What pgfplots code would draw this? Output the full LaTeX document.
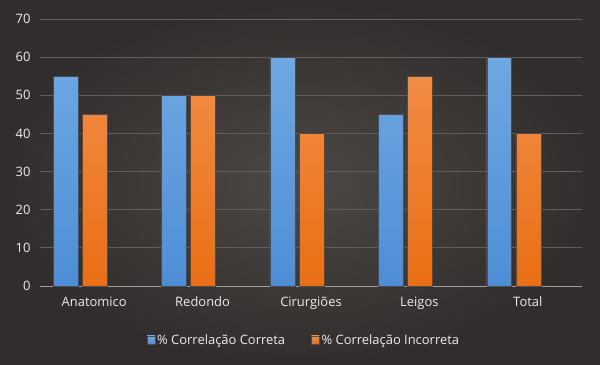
\documentclass[border=0pt]{standalone}
\usepackage{pgfplots}
\pgfplotsset{compat=1.18}
\usepackage{fontspec}
\setmainfont{Open Sans}
\definecolor{bgin}{HTML}{4C4845}
\definecolor{bgout}{HTML}{302D2C}
\definecolor{gridc}{HTML}{615E5B}
\definecolor{txt}{HTML}{EDEDED}
\definecolor{bluetop}{HTML}{6FA8E2}
\definecolor{bluebot}{HTML}{4E8ED6}
\definecolor{orgtop}{HTML}{F28C44}
\definecolor{orgbot}{HTML}{EA6E14}
\begin{document}
\begin{tikzpicture}
\fill[inner color=bgin, outer color=bgout] (0,0) rectangle (600bp,365bp);
\useasboundingbox (0,0) rectangle (600bp,365bp);
\begin{axis}[
  at={(40bp,79bp)}, anchor=south west,
  scale only axis, width=542bp, height=267bp,
  xmin=-0.5, xmax=4.5, ymin=0, ymax=70,
  ytick={0,10,...,70},
  xtick={0,1,2,3,4},
  xticklabels={Anatomico,Redondo,Cirurgiões,Leigos,Total},
  major tick length=0pt,
  ymajorgrids, grid style={gridc, line width=0.9bp},
  axis x line*=bottom, axis y line*=left,
  y axis line style={draw=none},
  x axis line style={draw=gray!75, line width=1bp, -},
  ticklabel style={font=\fontsize{13}{15}\selectfont, text=txt},
  /pgf/number format/assume math mode=true,
  yticklabel style={anchor=east, xshift=-6bp},
  xticklabel style={yshift=-7bp},
  legend columns=2,
  legend style={at={(0.487,-0.202)}, anchor=center, draw=none, fill=none,
    font=\fontsize{13}{15}\selectfont, text=txt,
    /tikz/every even column/.append style={column sep=24bp}},
  legend image code/.code={\fill[#1] (0bp,-4bp) rectangle (8bp,4bp);},
  clip=false,
]
\addplot[ybar, bar width=0.23, bar shift=-0.264, draw=black!70, line width=0.4bp,
  top color=bluetop, bottom color=bluebot]
  coordinates {(0,55) (1,50) (2,60) (3,45) (4,60)};
\addlegendentry{\% Correlação Correta}
\addplot[ybar, bar width=0.23, bar shift=0.005, draw=black!70, line width=0.4bp,
  top color=orgtop, bottom color=orgbot]
  coordinates {(0,45) (1,50) (2,40) (3,55) (4,40)};
\addlegendentry{\% Correlação Incorreta}
\end{axis}
\end{tikzpicture}
\end{document}
